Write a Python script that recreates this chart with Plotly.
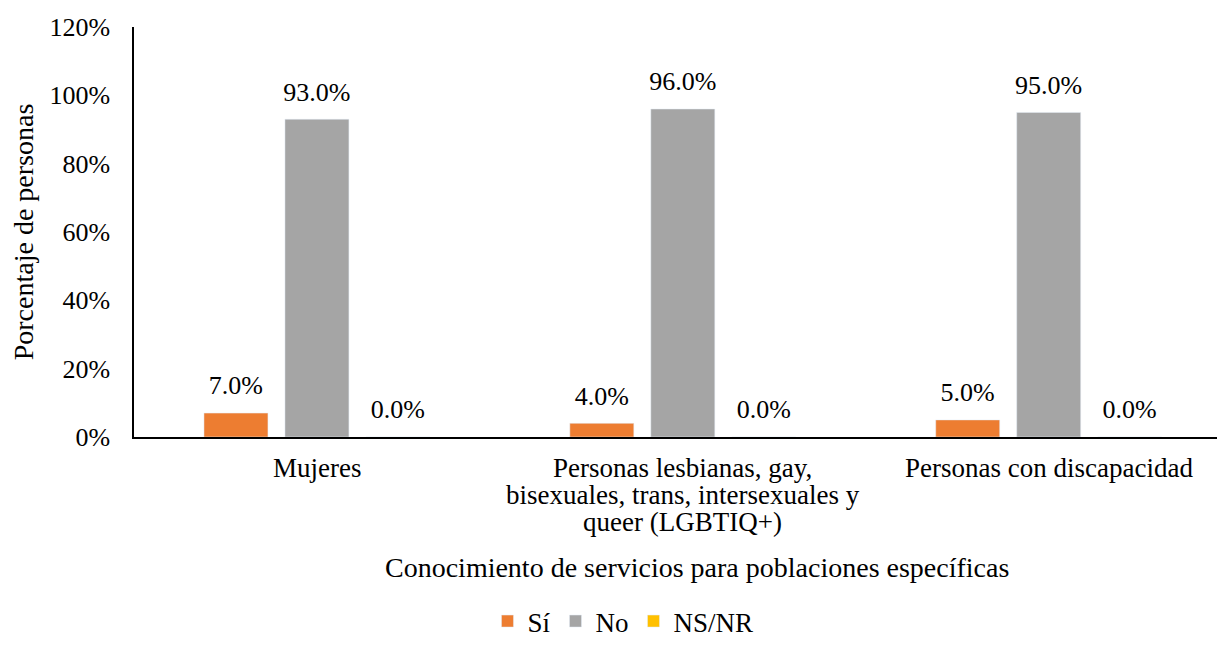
import plotly.graph_objects as go

categories = ["Mujeres", "LGBTIQ+", "Personas con discapacidad"]
category_labels = [
    ["Mujeres"],
    ["Personas lesbianas, gay,", "bisexuales, trans, intersexuales y", "queer (LGBTIQ+)"],
    ["Personas con discapacidad"],
]
series_names = ["Sí", "No", "NS/NR"]
si_values = [0.07, 0.04, 0.05]
no_values = [0.93, 0.96, 0.95]
nsnr_values = [0.0, 0.0, 0.0]
colors = ["#ED7D31", "#A5A5A5", "#FFC000"]
y_ticks = [0, 0.2, 0.4, 0.6, 0.8, 1.0, 1.2]
x_title = "Conocimiento de servicios para poblaciones específicas"
y_title = "Porcentaje de personas"

font = "Liberation Serif, Times New Roman, serif"

fig = go.Figure()
for i, (name, vals, col) in enumerate(zip(series_names, [si_values, no_values, nsnr_values], colors)):
    fig.add_trace(go.Bar(
        x=categories, y=vals, name=name, marker_color=col,
        offsetgroup=str(i), hoverinfo="skip",
    ))
for i, (name, vals) in enumerate(zip(series_names, [si_values, no_values, nsnr_values])):
    fig.add_trace(go.Scatter(
        x=categories, y=vals, mode="markers+text", offsetgroup=str(i),
        marker=dict(size=18, opacity=0), showlegend=False,
        text=[f"{v*100:.1f}%" for v in vals], textposition="top center",
        textfont=dict(family=font, size=26, color="black"),
        cliponaxis=False, hoverinfo="skip",
    ))

# category labels, one line each (tight line spacing)
for cat, lines in zip(categories, category_labels):
    for j, line in enumerate(lines):
        fig.add_annotation(x=cat, y=0, xref="x", yref="y", text=line, showarrow=False,
                           yanchor="middle", yshift=-(31 + 27 * j),
                           font=dict(family=font, size=27, color="black"))

# x-axis title
fig.add_annotation(x=0.52, y=0, xref="paper", yref="paper", text=x_title, showarrow=False,
                   xanchor="center", yanchor="middle", yshift=-130,
                   font=dict(family=font, size=28, color="black"))

fig.update_layout(
    width=1209, height=638,
    paper_bgcolor="white", plot_bgcolor="white",
    font=dict(family=font, size=26, color="black"),
    barmode="group", bargap=0.336, bargroupgap=0.21,
    scattermode="group", scattergap=0.336,
    margin=dict(l=126, r=0, t=19, b=209),
    showlegend=True,
    legend=dict(orientation="h", x=0.4515, xanchor="center", xref="paper",
                yref="container", y=0.0, yanchor="bottom",
                font=dict(family=font, size=27), traceorder="normal", itemwidth=30),
    xaxis=dict(showline=True, linecolor="black", linewidth=1.5, ticks="",
               showticklabels=False, automargin=False, range=[-0.5, 2.46]),
    yaxis=dict(range=[0, 1.2], tickvals=y_ticks, tickformat=".0%", showgrid=False,
               showline=True, linecolor="black", linewidth=1.5, ticks="",
               zeroline=False, tickfont=dict(family=font, size=26),
               ticklabelstandoff=17, automargin=False,
               title=dict(text=y_title, font=dict(family=font, size=28), standoff=14)),
)

fig.write_html("out.html")
